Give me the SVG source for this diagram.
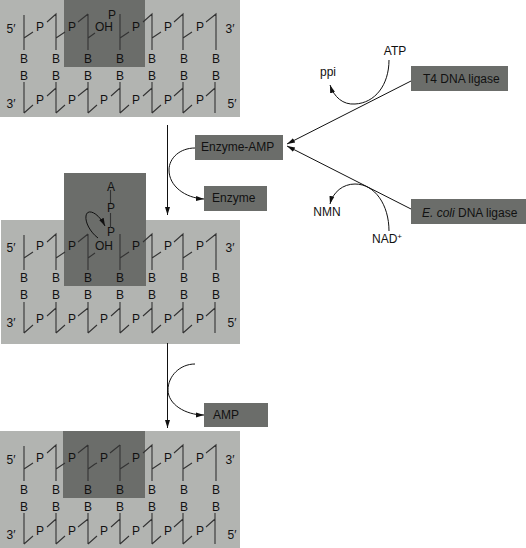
<svg xmlns="http://www.w3.org/2000/svg" xmlns:xlink="http://www.w3.org/1999/xlink" width="526" height="548" viewBox="0 0 526 548">
<style>
text{font-family:"Liberation Sans",Arial,sans-serif;font-size:12px;fill:#111}
.m{text-anchor:middle}
.panel{fill:#b2b4b1}
.dark{fill:#6b6d6a}
.s{fill:none;stroke:#333;stroke-width:1.1}
.c{fill:none;stroke:#111;stroke-width:1}
</style>
<defs>
<marker id="a" markerUnits="userSpaceOnUse" markerWidth="10" markerHeight="8" refX="8" refY="4" orient="auto"><path d="M0,1.5L8,4L0,6.5Z" fill="#111"/></marker>
<path id="top" d="M24,15V50M24,38L33,32M47,22L56,14V50M56,38L65,32M88,14V50M78,22L88,14M88,38L95,33M120,14V50M120,38L129,32M143,22L152,14V50M152,38L161,32M174,22L183,14V50M183,38L192,32M206,22L216,14V50"/>
<path id="bot" d="M24,82V113M24,113L33,105M47,96L56,88M56,82V113M56,113L65,105M78,96L88,88M88,82V113M88,113L97,105M111,96L120,88M120,82V113M120,113L129,105M143,96L152,88M152,82V113M152,113L161,105M174,96L183,88M183,82V113M183,113L192,105M206,96L215,88M215,82V113"/>
</defs>
<g id="panel1">
<rect class="panel" x="0" y="0" width="240" height="117"/>
<rect class="dark" x="64" y="0" width="81" height="67"/>
<use href="#top" class="s"/><use href="#bot" class="s"/>
<text class="m" x="11" y="33">5′</text><text class="m" x="230" y="33">3′</text><text class="m" x="11" y="108">3′</text><text class="m" x="232" y="108">5′</text>
<text class="m" x="40" y="31">P</text><text class="m" x="72" y="31">P</text><text class="m" x="104" y="31">OH</text><text class="m" x="112" y="19">P</text><text class="m" x="136" y="31">P</text><text class="m" x="168" y="31">P</text><text class="m" x="200" y="31">P</text>
<text class="m" x="24" y="63">B</text><text class="m" x="56" y="63">B</text><text class="m" x="88" y="63">B</text><text class="m" x="120" y="63">B</text><text class="m" x="152" y="63">B</text><text class="m" x="184" y="63">B</text><text class="m" x="216" y="63">B</text>
<text class="m" x="24" y="80">B</text><text class="m" x="56" y="80">B</text><text class="m" x="88" y="80">B</text><text class="m" x="120" y="80">B</text><text class="m" x="152" y="80">B</text><text class="m" x="184" y="80">B</text><text class="m" x="216" y="80">B</text>
<text class="m" x="40" y="104">P</text><text class="m" x="72" y="104">P</text><text class="m" x="104" y="104">P</text><text class="m" x="136" y="104">P</text><text class="m" x="168" y="104">P</text><text class="m" x="200" y="104">P</text>
</g>
<g id="panel2">
<rect class="panel" x="1" y="220" width="239" height="124"/>
<rect class="dark" x="64" y="173" width="82" height="113"/>
<use href="#top" class="s" y="220"/><use href="#bot" class="s" y="220"/>
<text class="m" x="111" y="191">A</text><text class="m" x="111" y="212">P</text><text class="m" x="111" y="236">P</text>
<path class="s" d="M110.5,190V203M110.5,213V228"/>
<path class="c" marker-end="url(#a)" d="M98,238C90,232 85,222 86,216C87,208 98,212 105,226"/>
<text class="m" x="11" y="252">5′</text><text class="m" x="230" y="252">3′</text><text class="m" x="11" y="327">3′</text><text class="m" x="232" y="327">5′</text>
<text class="m" x="40" y="250">P</text><text class="m" x="72" y="250">P</text><text class="m" x="104" y="250">OH</text><text class="m" x="136" y="250">P</text><text class="m" x="168" y="250">P</text><text class="m" x="200" y="250">P</text>
<text class="m" x="24" y="282">B</text><text class="m" x="56" y="282">B</text><text class="m" x="88" y="282">B</text><text class="m" x="120" y="282">B</text><text class="m" x="152" y="282">B</text><text class="m" x="184" y="282">B</text><text class="m" x="216" y="282">B</text>
<text class="m" x="24" y="299">B</text><text class="m" x="56" y="299">B</text><text class="m" x="88" y="299">B</text><text class="m" x="120" y="299">B</text><text class="m" x="152" y="299">B</text><text class="m" x="184" y="299">B</text><text class="m" x="216" y="299">B</text>
<text class="m" x="40" y="323">P</text><text class="m" x="72" y="323">P</text><text class="m" x="104" y="323">P</text><text class="m" x="136" y="323">P</text><text class="m" x="168" y="323">P</text><text class="m" x="200" y="323">P</text>
</g>
<g id="panel3">
<rect class="panel" x="0" y="431" width="240" height="117"/>
<rect class="dark" x="63" y="431" width="82" height="67"/>
<use href="#top" class="s" y="431"/><use href="#bot" class="s" y="431"/>
<path class="s" d="M110,453L120,445M95,464L97,463"/>
<text class="m" x="11" y="464">5′</text><text class="m" x="230" y="464">3′</text><text class="m" x="11" y="539">3′</text><text class="m" x="232" y="539">5′</text>
<text class="m" x="40" y="462">P</text><text class="m" x="72" y="462">P</text><text class="m" x="104" y="462">P</text><text class="m" x="136" y="462">P</text><text class="m" x="168" y="462">P</text><text class="m" x="200" y="462">P</text>
<text class="m" x="24" y="494">B</text><text class="m" x="56" y="494">B</text><text class="m" x="88" y="494">B</text><text class="m" x="120" y="494">B</text><text class="m" x="152" y="494">B</text><text class="m" x="184" y="494">B</text><text class="m" x="216" y="494">B</text>
<text class="m" x="24" y="511">B</text><text class="m" x="56" y="511">B</text><text class="m" x="88" y="511">B</text><text class="m" x="120" y="511">B</text><text class="m" x="152" y="511">B</text><text class="m" x="184" y="511">B</text><text class="m" x="216" y="511">B</text>
<text class="m" x="40" y="535">P</text><text class="m" x="72" y="535">P</text><text class="m" x="104" y="535">P</text><text class="m" x="136" y="535">P</text><text class="m" x="168" y="535">P</text><text class="m" x="200" y="535">P</text>
</g>
<g id="t4-ligase"><rect class="dark" x="411" y="66" width="97" height="25"/><text x="423" y="83">T4 DNA ligase</text></g>
<g id="ecoli-ligase"><rect class="dark" x="411" y="199" width="115" height="25"/><text x="422" y="217"><tspan font-style="italic">E. coli</tspan> DNA ligase</text></g>
<g id="enzyme-amp"><rect class="dark" x="195" y="135" width="88" height="25"/><text x="201" y="151">Enzyme-AMP</text></g>
<g id="enzyme"><rect class="dark" x="204" y="186" width="63" height="25"/><text x="212" y="202">Enzyme</text></g>
<g id="amp"><rect class="dark" x="204" y="403" width="64" height="24"/><text x="213" y="419">AMP</text></g>
<g id="atp"><text class="m" x="395" y="55">ATP</text></g>
<g id="ppi"><text class="m" x="328" y="76">ppi</text></g>
<g id="nmn"><text class="m" x="327" y="216">NMN</text></g>
<g id="nad"><text x="372" y="243">NAD<tspan font-size="8" dy="-4">+</tspan></text></g>
<g id="connectors">
<path class="c" marker-end="url(#a)" d="M167.5,125V215"/>
<path class="c" marker-end="url(#a)" d="M167.5,343V428"/>
<path class="c" marker-end="url(#a)" d="M195,148C180,148 169,158 169,170C169,186 185,198 204,199"/>
<path class="c" marker-end="url(#a)" d="M195,364C180,364 168,376 168,390C168,404 185,415 204,415"/>
<path class="c" marker-end="url(#a)" d="M411,81L287,144"/>
<path class="c" marker-end="url(#a)" d="M411,209L287,146"/>
<path class="c" marker-end="url(#a)" d="M389,60C389,85 375,103 355,104C343,105 334,97 330,85"/>
<path class="c" marker-end="url(#a)" d="M389,231C389,205 375,184 355,184C343,184 333,192 330,204"/>
</g>
</svg>
